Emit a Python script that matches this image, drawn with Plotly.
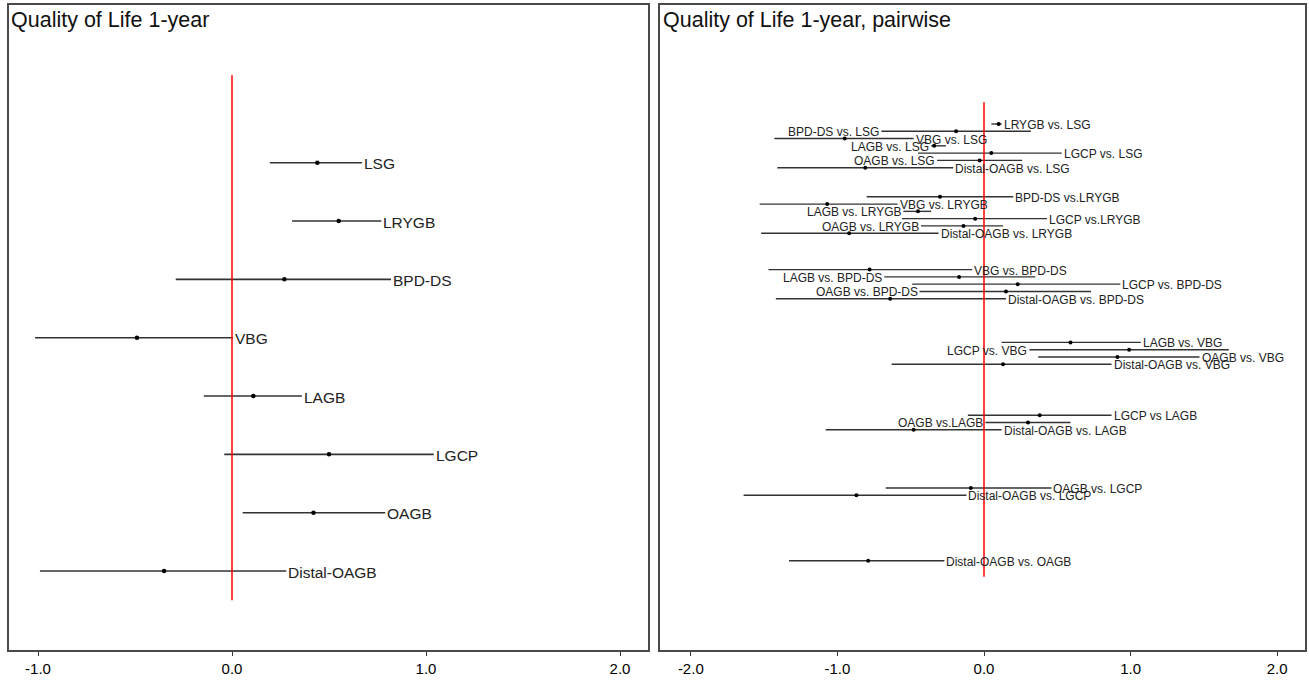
import plotly.graph_objects as go

# ---------------- Left panel data ----------------
left_labels = ["LSG", "LRYGB", "BPD-DS", "VBG", "LAGB", "LGCP", "OAGB", "Distal-OAGB"]
left_est = [0.44, 0.55, 0.27, -0.49, 0.11, 0.50, 0.42, -0.35]
left_lo = [0.195, 0.31, -0.29, -1.015, -0.145, -0.04, 0.055, -0.99]
left_hi = [0.67, 0.77, 0.82, 0.005, 0.36, 1.04, 0.79, 0.28]

# ---------------- Right panel data (pairwise) ----------------
pair_labels = [
    "LRYGB vs. LSG", "BPD-DS vs. LSG", "VBG vs. LSG", "LAGB vs. LSG", "LGCP vs. LSG", "OAGB vs. LSG", "Distal-OAGB vs. LSG",
    "BPD-DS vs.LRYGB", "VBG vs. LRYGB", "LAGB vs. LRYGB", "LGCP vs.LRYGB", "OAGB vs. LRYGB", "Distal-OAGB vs. LRYGB",
    "VBG vs. BPD-DS", "LAGB vs. BPD-DS", "LGCP vs. BPD-DS", "OAGB vs. BPD-DS", "Distal-OAGB vs. BPD-DS",
    "LAGB vs. VBG", "LGCP vs. VBG", "OAGB vs. VBG", "Distal-OAGB vs. VBG",
    "LGCP vs LAGB", "OAGB vs.LAGB", "Distal-OAGB vs. LAGB",
    "OAGB vs. LGCP", "Distal-OAGB vs. LGCP",
    "Distal-OAGB vs. OAGB",
]
pair_group = [0]*7 + [1]*6 + [2]*5 + [3]*4 + [4]*3 + [5]*2 + [6]
pair_est = [0.10, -0.19, -0.95, -0.34, 0.05, -0.03, -0.81,
            -0.30, -1.07, -0.45, -0.06, -0.14, -0.92,
            -0.78, -0.17, 0.23, 0.15, -0.64,
            0.59, 0.99, 0.91, 0.13,
            0.38, 0.30, -0.48,
            -0.09, -0.87,
            -0.79]
pair_lo = [0.05, -0.70, -1.43, -0.36, -0.45, -0.32, -1.41,
           -0.80, -1.53, -0.55, -0.56, -0.43, -1.52,
           -1.47, -0.68, -0.49, -0.44, -1.42,
           0.12, 0.31, 0.37, -0.63,
           -0.11, 0.01, -1.08,
           -0.67, -1.64,
           -1.33]
pair_hi = [0.12, 0.32, -0.48, -0.26, 0.53, 0.26, -0.21,
           0.20, -0.59, -0.36, 0.43, 0.13, -0.31,
           -0.08, 0.35, 0.93, 0.73, 0.15,
           1.07, 1.67, 1.47, 0.87,
           0.87, 0.59, 0.12,
           0.46, -0.12,
           -0.27]
pair_side = ["R", "L", "R", "L", "R", "L", "R",
             "R", "R", "L", "R", "L", "R",
             "R", "L", "R", "L", "R",
             "R", "L", "R", "R",
             "R", "L", "R",
             "R", "R",
             "R"]

left_ticks = [-1.0, 0.0, 1.0, 2.0]
right_ticks = [-2.0, -1.0, 0.0, 1.0, 2.0]

# ---------------- styling ----------------
W, H = 1309, 682
FONT = "Liberation Sans, Arial, sans-serif"
LINE_C = "#333333"
FRAME_C = "#4a4a4a"

def px_x(p):
    return p / W

def px_y(p):
    return 1 - p / H

fig = go.Figure()

# left positions
left_pos = list(range(len(left_labels)))
lx, ly = [], []
for lo, hi, p in zip(left_lo, left_hi, left_pos):
    lx += [lo, hi, None]
    ly += [p, p, None]
fig.add_trace(go.Scatter(x=lx, y=ly, mode="lines", line=dict(color=LINE_C, width=1.6),
                         xaxis="x", yaxis="y", showlegend=False, hoverinfo="skip"))
fig.add_trace(go.Scatter(x=left_est, y=left_pos, mode="markers",
                         marker=dict(color="black", size=4.5), xaxis="x", yaxis="y",
                         showlegend=False))

# right positions: each group occupies 10 slots
pos_r = []
cnt = {}
for g in pair_group:
    r = cnt.get(g, 0)
    cnt[g] = r + 1
    pos_r.append(10 * g + r)
rx, ry = [], []
for lo, hi, p in zip(pair_lo, pair_hi, pos_r):
    rx += [lo, hi, None]
    ry += [p, p, None]
fig.add_trace(go.Scatter(x=rx, y=ry, mode="lines", line=dict(color=LINE_C, width=1.4),
                         xaxis="x2", yaxis="y2", showlegend=False, hoverinfo="skip"))
fig.add_trace(go.Scatter(x=pair_est, y=pos_r, mode="markers",
                         marker=dict(color="black", size=4), xaxis="x2", yaxis="y2",
                         showlegend=False))

annotations = []
for lab, hi, p in zip(left_labels, left_hi, left_pos):
    annotations.append(dict(x=hi, y=p, xref="x", yref="y", text=lab, showarrow=False,
                            xanchor="left", yanchor="middle", xshift=0, yshift=-1,
                            font=dict(family=FONT, size=15.5, color="#222")))
for lab, lo, hi, p, s in zip(pair_labels, pair_lo, pair_hi, pos_r, pair_side):
    if s == "R":
        annotations.append(dict(x=hi, y=p, xref="x2", yref="y2", text=lab, showarrow=False,
                                xanchor="left", yanchor="middle", xshift=0, yshift=-1,
                                font=dict(family=FONT, size=12, color="#222")))
    else:
        annotations.append(dict(x=lo, y=p, xref="x2", yref="y2", text=lab, showarrow=False,
                                xanchor="right", yanchor="middle", xshift=0, yshift=-1,
                                font=dict(family=FONT, size=12, color="#222")))

# titles
annotations.append(dict(x=px_x(9), y=px_y(20), xref="paper", yref="paper",
                        text="Quality of Life 1-year", showarrow=False, xanchor="left",
                        yanchor="middle", font=dict(family=FONT, size=21.5, color="#111")))
annotations.append(dict(x=px_x(661), y=px_y(20), xref="paper", yref="paper",
                        text="Quality of Life 1-year, pairwise", showarrow=False, xanchor="left",
                        yanchor="middle", font=dict(family=FONT, size=21.5, color="#111")))

shapes = [
    dict(type="line", xref="x", yref="y", x0=0, x1=0, y0=-1.5, y1=len(left_labels) - 0.5,
         line=dict(color="red", width=1.5)),
    dict(type="line", xref="x2", yref="y2", x0=0, x1=0, y0=-3, y1=max(pos_r) + 2.2,
         line=dict(color="red", width=1.5)),
]

# axis ranges derived from pixel geometry
L_x0, L_x1 = 9, 648
R_x0, R_x1 = 660, 1305
Y0, Y1 = 5, 650
l_zero, l_unit = 232, 194.0
r_zero, r_unit = 984, 146.6
l_row0, l_rowh = 162.7, 58.33
r_row0, r_rowh = 124, 7.28

axis_common = dict(showgrid=False, zeroline=False, showline=True, linecolor=FRAME_C,
                   linewidth=1.5, mirror=True, ticks="outside", ticklen=4, tickwidth=1,
                   tickcolor="#333", tickfont=dict(family=FONT, size=15, color="#000"))

fig.update_layout(
    width=W, height=H, margin=dict(l=0, r=0, t=0, b=0),
    paper_bgcolor="white", plot_bgcolor="white",
    xaxis=dict(domain=[px_x(L_x0), px_x(L_x1)],
               range=[(L_x0 - l_zero) / l_unit, (L_x1 - l_zero) / l_unit],
               tickvals=left_ticks, ticktext=[f"{t:.1f}" for t in left_ticks],
               anchor="y", **axis_common),
    yaxis=dict(domain=[px_y(Y1), px_y(Y0)],
               range=[(Y1 - l_row0) / l_rowh, (Y0 - l_row0) / l_rowh],
               showticklabels=False, showgrid=False, zeroline=False, showline=True,
               linecolor=FRAME_C, linewidth=1.5, mirror=True, ticks="", anchor="x"),
    xaxis2=dict(domain=[px_x(R_x0), px_x(R_x1)],
                range=[(R_x0 - r_zero) / r_unit, (R_x1 - r_zero) / r_unit],
                tickvals=right_ticks, ticktext=[f"{t:.1f}" for t in right_ticks],
                anchor="y2", **axis_common),
    yaxis2=dict(domain=[px_y(Y1), px_y(Y0)],
                range=[(Y1 - r_row0) / r_rowh, (Y0 - r_row0) / r_rowh],
                showticklabels=False, showgrid=False, zeroline=False, showline=True,
                linecolor=FRAME_C, linewidth=1.5, mirror=True, ticks="", anchor="x2"),
    annotations=annotations,
    shapes=shapes,
    showlegend=False,
)

fig.write_html("out.html", config={"displayModeBar": False},
               post_script="document.body.style.margin='0';")
